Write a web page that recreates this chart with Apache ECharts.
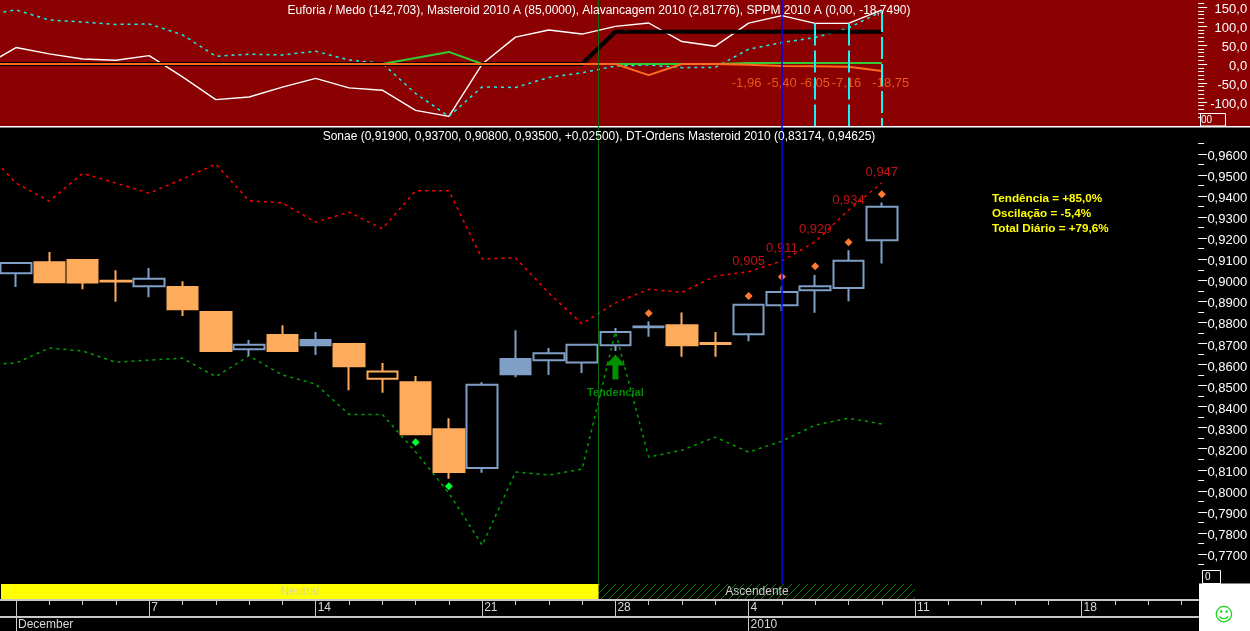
<!DOCTYPE html>
<html>
<head>
<meta charset="utf-8">
<style>html,body{margin:0;padding:0;background:#000;overflow:hidden}#c{width:1250px;height:631px}</style>
<script src="https://cdn.jsdelivr.net/npm/echarts@6/dist/echarts.min.js"></script>
</head>
<body>
<div id="c"></div>
<script>
// --- categories (first entry is the session before the visible window)
const sessions = ['30 Nov','1 Dec','2 Dec','3 Dec','4 Dec','7 Dec','8 Dec','9 Dec','10 Dec','11 Dec','14 Dec','15 Dec','16 Dec','17 Dec','18 Dec','21 Dec','22 Dec','23 Dec','24 Dec','28 Dec','29 Dec','30 Dec','31 Dec','4 Jan','5 Jan','6 Jan','7 Jan','8 Jan','11 Jan','12 Jan','13 Jan','14 Jan','15 Jan','18 Jan','19 Jan','20 Jan','21 Jan'];

// --- candles, starting 1 Dec
const opens  = [0.9034,0.9086,0.9096,0.8998,0.8972,0.8968,0.8849,0.8672,0.8740,0.8716,0.8697,0.8532,0.8516,0.8293,0.8108,0.8626,0.8620,0.8610,0.8691,0.8777,0.8787,0.8702,0.8744,0.8882,0.8953,0.8963,0.9190];
const closes = [0.9082,0.8991,0.8989,0.8994,0.9007,0.8863,0.8664,0.8694,0.8664,0.8692,0.8592,0.8567,0.8269,0.8089,0.8504,0.8554,0.8653,0.8694,0.8755,0.8781,0.8692,0.8698,0.8884,0.8945,0.8972,0.9093,0.9350];
const lows   = [0.8968,0.8988,0.8958,0.8898,0.8920,0.8830,0.8659,0.8640,0.8659,0.8645,0.8478,0.8466,0.8269,0.8057,0.8086,0.8540,0.8550,0.8560,0.8664,0.8732,0.8637,0.8637,0.8711,0.8854,0.8846,0.8900,0.9080];
const highs  = [0.9082,0.9134,0.9096,0.9048,0.9058,0.8996,0.8849,0.8716,0.8787,0.8754,0.8697,0.8607,0.8545,0.8345,0.8516,0.8763,0.8678,0.8694,0.8773,0.8805,0.8847,0.8754,0.8884,0.8972,0.9025,0.9143,0.9370];
const tones  = ['b','o','o','o','b','o','o','b','o','b','o','o','o','o','b','b','b','b','b','b','o','o','b','b','b','b','b'];

// --- DT-Ordens bands, starting 30 Nov
const upperBand = [0.9628,0.9462,0.9376,0.9508,0.9462,0.9414,0.9481,0.9552,0.9378,0.9368,0.9276,0.9324,0.9245,0.9425,0.9425,0.9101,0.9107,0.8939,0.8793,0.8893,0.8957,0.8943,0.9020,0.9041,0.9092,0.9183,0.9334,0.9463];
const lowerBand = [0.8597,0.8607,0.8678,0.8664,0.8611,0.8621,0.8630,0.8542,0.8641,0.8550,0.8507,0.8363,0.8363,0.8185,0.7989,0.7742,0.8089,0.8075,0.8103,0.8755,0.8160,0.8193,0.8255,0.8184,0.8236,0.8312,0.8345,0.8317];
const upperBandLabels = [['4 Jan',0.905],['5 Jan',0.911],['6 Jan',0.920],['7 Jan',0.934],['8 Jan',0.947]];

// --- signal markers [session, price]
const greenSignals  = [['17 Dec',0.8231],['18 Dec',0.8022]];
const orangeSignals = [['29 Dec',0.8844],['4 Jan',0.8925],['5 Jan',0.9017],['6 Jan',0.9067],['7 Jan',0.9181],['8 Jan',0.9409]];
const trendArrow    = [['28 Dec',0.8588]];

// --- upper panel, starting 30 Nov
const euforia = [-8,43.4,26.6,13.3,9.8,22,-33.8,-93.9,-87,-61.2,-38,-63,-69.1,-122.3,-138.3,0,71,89.6,79,99.2,108.2,59.3,47,108,127.7,107.2,107.2,142.7];
const euforiaSlow = [127.7,142.8,116.2,110.9,104.5,105.6,77.1,20.5,25.8,23.9,33.8,10.6,1.9,-77.9,-138.3,-60.4,-62,-35.4,-23.1,-5.3,-2.7,-9.8,-8.8,39,56.6,70,95,139];
const masteroid = [0,0,0,0,0,0,0,0,0,0,0,0,0,0,0,0,0,0,0,85,85,85,85,85,85,85,85,85];
const alavancagem = [0,0,0,0,0,0,0,0,0,0,0,0,0,16,31.9,0,0,0,0,0,0,0,0,2.8,2.8,2.8,2.8,2.8];
const sppm = [0,0,0,0,0,0,0,0,0,0,0,0,0,0,0,0,0,0,0,0,-29.3,0,0,-1.96,-5.40,-6.05,-7.16,-18.75];

// --- axis ticks
const mainMajor = [0.96,0.95,0.94,0.93,0.92,0.91,0.90,0.89,0.88,0.87,0.86,0.85,0.84,0.83,0.82,0.81,0.80,0.79,0.78,0.77];
const mainMinor = [0.965,0.955,0.945,0.935,0.925,0.915,0.905,0.895,0.885,0.875,0.865,0.855,0.845,0.835,0.825,0.815,0.805,0.795,0.785,0.775,0.765];
const upperMajor = [150,100,50,0,-50,-100];
const upperMinor = [160,140,130,120,110,90,80,70,60,40,30,20,10,-10,-20,-30,-40,-60,-70,-80,-90,-110,-120,-130,-140];
const dayTicks = [1,2,3,4,5,6,7,8,9,10,11,12,13,14,15,16,17,18,19,20,21,22,23,24,25,26,27,28,29,30,31,32,33,34,35,36];
const weekTicks = [1,5,10,15,19,23,28,33];
const weekLabels = ['','7','14','21','28','4','11','18'];
const monthTicks = [1,23];
const monthLabels = ['December','2010'];

// --- highlighted sessions
const trendStart = 18.5;
const blueSession = 24;
const cyanSessions = [25,26,27];
const neutralRange = [0.55,18.5];
const ascendingRange = [18.5,28];

const BLUE='#7f9fc6', ORANGE='#ffab5c', FONT='"Liberation Sans",Arial,sans-serif';
const gridX = {left:-33.95,width:1232.1,outerBoundsMode:'none',containLabel:false};
const xMin=-0.5, xMax=36.5, upperMin=-163.6, upperMax=168.9, mainMin=0.7562, mainMax=0.97283;
const comma=(v,n)=>v.toFixed(n).replace('.',',');

const candles = sessions.slice(0,28).map((s,k)=>{
  if(k===0) return {value:['-','-','-','-']};
  const i=k-1, c=tones[i]==='b'?BLUE:ORANGE, hollow=closes[i]>opens[i];
  const fill=hollow?'transparent':c;
  return {value:[opens[i],closes[i],lows[i],highs[i]],itemStyle:{color:fill,color0:fill,borderColor:c,borderColor0:c}};
});

const hatch=document.createElement('canvas');hatch.width=8;hatch.height=8;
(function(){const g=hatch.getContext('2d');g.fillStyle='#000';g.fillRect(0,0,8,8);g.strokeStyle='#008000';g.lineWidth=1;
g.beginPath();g.moveTo(0,8);g.lineTo(8,0);g.stroke();g.beginPath();g.moveTo(-1,1);g.lineTo(1,-1);g.moveTo(7,9);g.lineTo(9,7);g.stroke();})();

const lineBase={type:'line',showSymbol:false,symbol:'none',silent:true,animation:false,connectNulls:false};
const hiddenCat=i=>({type:'category',gridIndex:i,data:sessions,show:false,boundaryGap:true});
const hiddenVal=i=>({type:'value',gridIndex:i,min:xMin,max:xMax,show:false});
const hiddenY=i=>({type:'value',gridIndex:i,min:0,max:1,show:false});

const option={
  animation:false,
  backgroundColor:'#000',
  grid:[
    {...gridX,top:0,height:126},
    {...gridX,top:127,height:456},
    {...gridX,top:584,height:15},
    {...gridX,top:600,height:17},
    {...gridX,top:617,height:14},
    {...gridX,top:0,height:584}
  ],
  xAxis:[
    hiddenCat(0),
    hiddenCat(1),
    hiddenVal(2),
    {type:'value',gridIndex:3,min:xMin,max:xMax,position:'top',
      axisLine:{show:true,onZero:false,lineStyle:{color:'#c8c8c8',width:2}},
      axisTick:{show:true,inside:true,length:5,customValues:dayTicks,lineStyle:{color:'#c8c8c8'}},
      axisLabel:{show:false},splitLine:{show:false}},
    {type:'value',gridIndex:3,min:xMin,max:xMax,position:'top',
      axisLine:{show:false,onZero:false},
      axisTick:{show:true,inside:true,length:17,customValues:weekTicks,lineStyle:{color:'#c8c8c8'}},
      axisLabel:{show:true,inside:true,customValues:weekTicks,margin:2,align:'left',verticalAlign:'top',color:'#d8d8d8',fontFamily:FONT,fontSize:12,padding:[0,0,0,2],
        formatter:v=>weekLabels[weekTicks.indexOf(v)]},
      splitLine:{show:false}},
    {type:'value',gridIndex:4,min:xMin,max:xMax,position:'top',
      axisLine:{show:true,onZero:false,lineStyle:{color:'#c8c8c8',width:2}},
      axisTick:{show:true,inside:true,length:14,customValues:monthTicks,lineStyle:{color:'#c8c8c8'}},
      axisLabel:{show:true,inside:true,customValues:monthTicks,margin:2,align:'left',verticalAlign:'top',color:'#d8d8d8',fontFamily:FONT,fontSize:12,padding:[0,0,0,2],
        formatter:v=>monthLabels[monthTicks.indexOf(v)]},
      splitLine:{show:false}},
    hiddenVal(5)
  ],
  yAxis:[
    {type:'value',gridIndex:0,position:'right',min:upperMin,max:upperMax,splitLine:{show:false},
      axisLine:{show:false,onZero:false},axisTick:{show:true,length:9,customValues:upperMajor,lineStyle:{color:'#fff'}},
      axisLabel:{show:true,customValues:upperMajor,margin:49,align:'right',verticalAlign:'top',lineHeight:5,color:'#fff',fontFamily:FONT,fontSize:13,formatter:v=>comma(v,1)}},
    {type:'value',gridIndex:0,position:'right',min:upperMin,max:upperMax,splitLine:{show:false},
      axisLine:{show:false,onZero:false},axisTick:{show:true,length:6,customValues:upperMinor,lineStyle:{color:'#fff'}},axisLabel:{show:false}},
    {type:'value',gridIndex:1,position:'right',min:mainMin,max:mainMax,splitLine:{show:false},
      axisLine:{show:false,onZero:false},axisTick:{show:true,length:9,customValues:mainMajor,lineStyle:{color:'#fff'}},
      axisLabel:{show:true,customValues:mainMajor,margin:49,align:'right',verticalAlign:'top',lineHeight:5,color:'#fff',fontFamily:FONT,fontSize:13,formatter:v=>comma(v,4)}},
    {type:'value',gridIndex:1,position:'right',min:mainMin,max:mainMax,splitLine:{show:false},
      axisLine:{show:false,onZero:false},axisTick:{show:true,length:6,customValues:mainMinor,lineStyle:{color:'#fff'}},axisLabel:{show:false}},
    hiddenY(2),hiddenY(3),hiddenY(4),hiddenY(5)
  ],
  series:[
    // upper panel
    {...lineBase,name:'Euforia / Medo',xAxisIndex:0,yAxisIndex:0,data:euforia,lineStyle:{color:'#fff',width:1.4}},
    {...lineBase,name:'Euforia / Medo lenta',xAxisIndex:0,yAxisIndex:0,data:euforiaSlow,lineStyle:{color:'#19f0f0',width:1.5,type:[3,4]}},
    {...lineBase,name:'Masteroid 2010 A',xAxisIndex:0,yAxisIndex:0,data:masteroid,lineStyle:{color:'#000',width:4,cap:'butt'}},
    {...lineBase,name:'Alavancagem 2010',xAxisIndex:0,yAxisIndex:0,data:alavancagem,lineStyle:{color:'#33cc33',width:2}},
    {...lineBase,name:'SPPM 2010 A',xAxisIndex:0,yAxisIndex:0,data:sppm,lineStyle:{color:'#ff6a1f',width:2},
      markLine:{silent:true,symbol:'none',animation:false,label:{show:false},
        data:cyanSessions.map(i=>[{xAxis:i,yAxis:euforia[i]},{xAxis:i,yAxis:upperMin}]),lineStyle:{color:'#19f0f0',width:2,type:[22,5],opacity:1}}},
    {type:'scatter',name:'SPPM valores',xAxisIndex:0,yAxisIndex:0,symbolSize:0,silent:true,animation:false,
      data:sppm.map((v,i)=>[i,v]).slice(23).map(d=>({value:[d[0],-50.5],label:{offset:d[0]===27?[9,0]:(d[0]===23?[-2,0]:(d[0]===26?[-2,0]:[0,0]))}})),
      label:{show:true,position:'inside',color:'#ff6a1f',fontFamily:FONT,fontSize:13,formatter:p=>comma(sppm[p.value[0]],2)}},
    // main panel
    {...lineBase,name:'DT-Ordens superior',xAxisIndex:1,yAxisIndex:2,data:upperBand,lineStyle:{color:'#ff0000',width:1.5,type:[3,4]}},
    {...lineBase,name:'DT-Ordens inferior',xAxisIndex:1,yAxisIndex:2,data:lowerBand,lineStyle:{color:'#00a000',width:1.5,type:[3,4]}},
    {type:'scatter',name:'DT-Ordens valores',xAxisIndex:1,yAxisIndex:2,symbolSize:0,silent:true,animation:false,data:upperBandLabels,
      label:{show:true,position:'top',distance:2,color:'#f01818',fontFamily:FONT,fontSize:13,formatter:p=>comma(p.value[1],3)}},
    {type:'candlestick',name:'Sonae',xAxisIndex:1,yAxisIndex:2,barWidth:31,data:candles,silent:true,animation:false,itemStyle:{borderWidth:2}},
    {type:'scatter',name:'Sinais verdes',xAxisIndex:1,yAxisIndex:2,symbol:'diamond',symbolSize:8,silent:true,animation:false,data:greenSignals,itemStyle:{color:'#00ff33',opacity:1}},
    {type:'scatter',name:'Sinais laranja',xAxisIndex:1,yAxisIndex:2,symbol:'diamond',symbolSize:8,silent:true,animation:false,data:orangeSignals,itemStyle:{color:'#ff7a30',opacity:1}},
    {type:'scatter',name:'Tendencial',xAxisIndex:1,yAxisIndex:2,silent:true,animation:false,data:trendArrow,
      symbol:'path://M10 0 L20 11 L13 11 L13 25 L7 25 L7 11 L0 11 Z',symbolSize:[20,25],itemStyle:{color:'#009000',opacity:1},
      label:{show:true,position:'bottom',distance:8,color:'#008a00',fontFamily:FONT,fontWeight:'bold',fontSize:11,formatter:'Tendencial'}},
    // strip
    {...lineBase,name:'Estado',xAxisIndex:2,yAxisIndex:4,data:[[1,0.5]],lineStyle:{opacity:0},
      markArea:{silent:true,animation:false,data:[
        [{name:'Neutral',xAxis:neutralRange[0],itemStyle:{color:'#ffff00',opacity:1},label:{color:'#d8d8a0'}},{xAxis:neutralRange[1]}],
        [{name:'Ascendente',xAxis:ascendingRange[0],itemStyle:{color:{image:hatch,repeat:'repeat'},opacity:1},label:{color:'#c8c8c8'}},{xAxis:ascendingRange[1]}]
      ],label:{show:true,position:'inside',fontFamily:FONT,fontSize:12}}},
    // full-height verticals
    {...lineBase,name:'Marcadores',xAxisIndex:6,yAxisIndex:7,data:[[1,0.5]],lineStyle:{opacity:0},z:5,
      markLine:{silent:true,symbol:'none',animation:false,label:{show:false},data:[
        {xAxis:trendStart,lineStyle:{color:'#0b6b0b',width:1,type:'solid'}},
        {xAxis:blueSession,lineStyle:{color:'#0000ff',width:1.5,type:'solid'}}
      ]}}
  ],
  graphic:[
    {type:'rect',z:-10,silent:true,shape:{x:0,y:0,width:1250,height:126},style:{fill:'#8b0000'}},
    {type:'rect',z:1,silent:true,shape:{x:0,y:126,width:1250,height:1.5},style:{fill:'#fff'}},
    {type:'rect',z:20,silent:true,shape:{x:1200.5,y:113.5,width:25,height:12.5},style:{fill:'#8b0000',stroke:'#fff',lineWidth:1}},
    {type:'text',z:21,silent:true,style:{x:1201,y:120,text:'00',fill:'#fff',font:'10px '+FONT,verticalAlign:'middle'}},
    {type:'rect',z:20,silent:true,shape:{x:1202.5,y:570.5,width:18,height:13},style:{fill:'#000',stroke:'#fff',lineWidth:1}},
    {type:'text',z:21,silent:true,style:{x:1205,y:577,text:'0',fill:'#fff',font:'10px '+FONT,verticalAlign:'middle'}},
    {type:'rect',z:20,silent:true,shape:{x:1199,y:583.5,width:51,height:48},style:{fill:'#fff'}},
    {type:'text',z:21,silent:true,style:{x:1224,y:616,text:'\u263A',fill:'#19d619',font:'19px "DejaVu Sans"',align:'center',verticalAlign:'middle'}},
    {type:'text',z:30,silent:true,style:{x:599,y:11,text:'Euforia / Medo (142,703), Masteroid 2010 A (85,0000), Alavancagem 2010 (2,81776), SPPM 2010 A (0,00, -18,7490)',fill:'#fff',font:'12px '+FONT,align:'center',verticalAlign:'middle'}},
    {type:'text',z:30,silent:true,style:{x:599,y:137,text:'Sonae (0,91900, 0,93700, 0,90800, 0,93500, +0,02500), DT-Ordens Masteroid 2010 (0,83174, 0,94625)',fill:'#fff',font:'12px '+FONT,align:'center',verticalAlign:'middle'}},
    {type:'text',z:30,silent:true,style:{x:992,y:198.5,text:'Tend\u00eancia = +85,0%',fill:'#ffff00',font:'bold 11.7px '+FONT,verticalAlign:'middle'}},
    {type:'text',z:30,silent:true,style:{x:992,y:213.5,text:'Oscila\u00e7\u00e3o = -5,4%',fill:'#ffff00',font:'bold 11.7px '+FONT,verticalAlign:'middle'}},
    {type:'text',z:30,silent:true,style:{x:992,y:228.5,text:'Total Di\u00e1rio = +79,6%',fill:'#ffff00',font:'bold 11.7px '+FONT,verticalAlign:'middle'}}
  ]
};
const chart=echarts.init(document.getElementById('c'),null,{renderer:'canvas',width:1250,height:631});
chart.setOption(option);
</script>
</body>
</html>
